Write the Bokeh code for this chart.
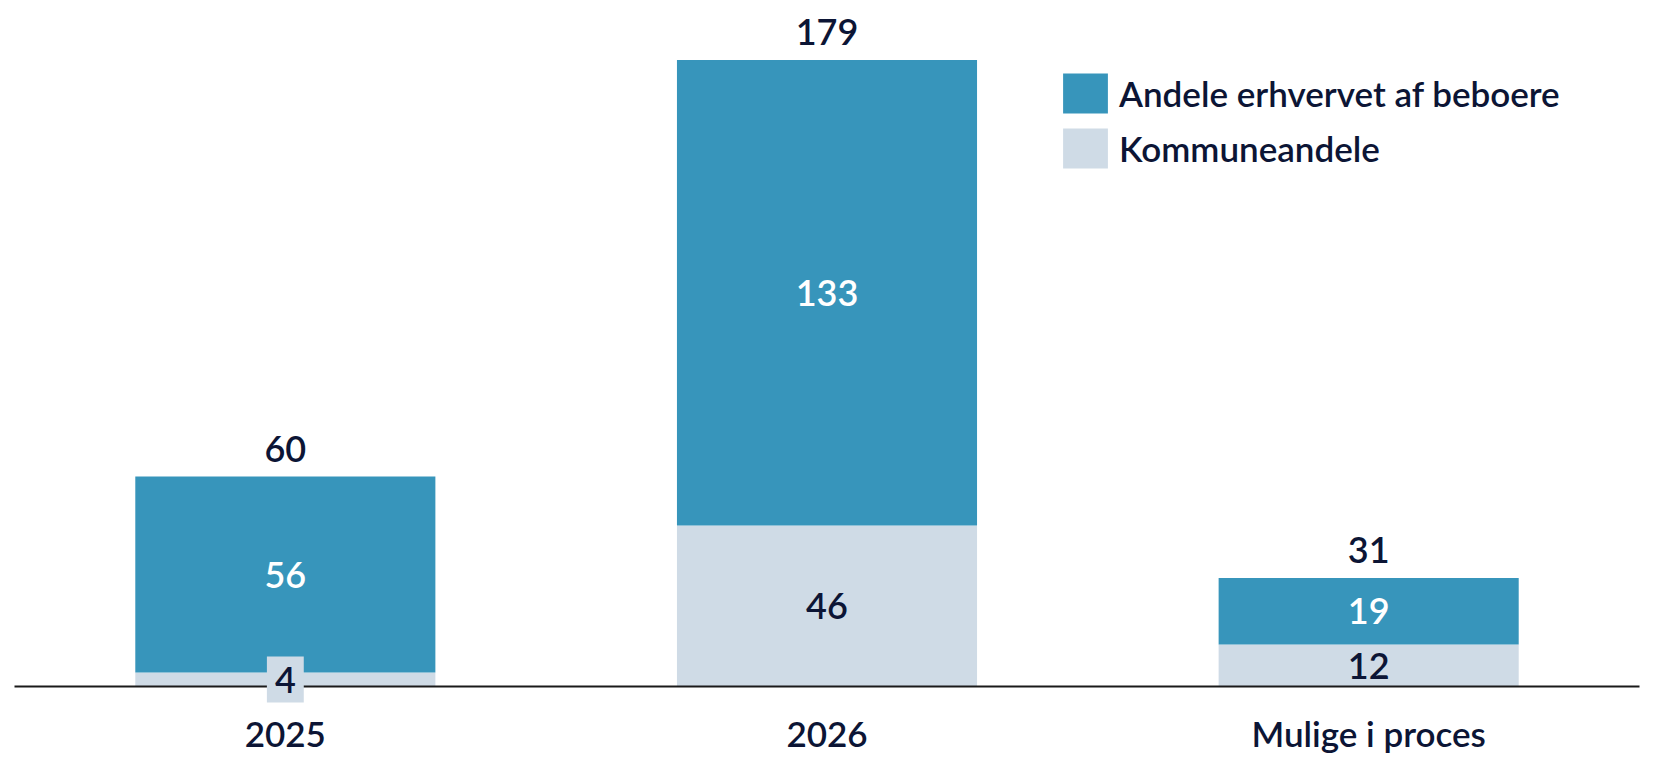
from bokeh.plotting import figure
from bokeh.models import ColumnDataSource, Legend, LegendItem, Range1d, FactorRange
from bokeh.core.properties import value
from bokeh.embed import file_html
from bokeh.resources import INLINE

categories = ["2025", "2026", "Mulige i proces"]
kommuneandele = [4, 46, 12]
beboerandele = [56, 133, 19]
totals = [60, 179, 31]

BLUE = "#3795BB"
LIGHT = "#CFDBE6"
NAVY = "#0C1535"
FONT = "Lato Semibold"

src = ColumnDataSource(dict(
    cat=categories,
    k=kommuneandele,
    b=beboerandele,
    btop=[k + b for k, b in zip(kommuneandele, beboerandele)],
    bmid=[k + b / 2 for k, b in zip(kommuneandele, beboerandele)],
    tot=totals,
    b_s=[str(v) for v in beboerandele],
    t_s=[str(v) for v in totals],
))

# light-segment labels: those too short for the text get a backing box
MIN_FIT = 10
fit = [i for i, v in enumerate(kommuneandele) if v >= MIN_FIT]
small = [i for i, v in enumerate(kommuneandele) if v < MIN_FIT]
src_fit = ColumnDataSource(dict(
    cat=[categories[i] for i in fit],
    y=[kommuneandele[i] / 2 for i in fit],
    s=[str(kommuneandele[i]) for i in fit],
))
src_small = ColumnDataSource(dict(
    cat=[categories[i] for i in small],
    y=[kommuneandele[i] / 2 for i in small],
    s=[str(kommuneandele[i]) for i in small],
))

p = figure(x_range=FactorRange(*categories), y_range=Range1d(0, 196),
           width=1671, height=758, output_backend="svg", toolbar_location=None,
           min_border_left=14, min_border_right=32, min_border_top=0, min_border_bottom=72)

W = 0.554
r_light = p.vbar(x="cat", bottom=0, top="k", width=W, source=src,
                 fill_color=LIGHT, line_color=None)
r_blue = p.vbar(x="cat", bottom="k", top="btop", width=W, source=src,
                fill_color=BLUE, line_color=None)

p.text(x="cat", y="tot", text="t_s", source=src, y_offset=-28,
       text_align="center", text_baseline="middle", text_color=NAVY,
       text_font=value(FONT), text_font_size="36px")
p.text(x="cat", y="bmid", text="b_s", source=src,
       text_align="center", text_baseline="middle", text_color="white",
       text_font=value(FONT), text_font_size="36px")
p.text(x="cat", y="y", text="s", source=src_fit,
       text_align="center", text_baseline="middle", text_color=NAVY,
       text_font=value(FONT), text_font_size="36px")
p.text(x="cat", y="y", text="s", source=src_small,
       text_align="center", text_baseline="middle", text_color=NAVY,
       text_font=value(FONT), text_font_size="36px",
       background_fill_color=LIGHT, padding=(8, 10), level="overlay")

legend = Legend(items=[
    LegendItem(label="Andele erhvervet af beboere", renderers=[r_blue]),
    LegendItem(label="Kommuneandele", renderers=[r_light]),
], location=(1043, 513), orientation="vertical")
legend.glyph_width = 56
legend.glyph_height = 50
legend.label_height = 50
legend.spacing = 5
legend.padding = 0
legend.margin = 0
legend.label_standoff = 6
legend.label_text_font = FONT
legend.label_text_font_size = "35px"
legend.label_text_color = NAVY
legend.border_line_color = None
legend.background_fill_alpha = 0
p.add_layout(legend)

p.yaxis.visible = False
p.xgrid.visible = False
p.ygrid.visible = False
p.outline_line_color = None
p.xaxis.axis_line_color = "#1A1A1A"
p.xaxis.axis_line_width = 2
p.xaxis.major_tick_line_color = None
p.xaxis.minor_tick_line_color = None
p.xaxis.major_label_text_font = FONT
p.xaxis.major_label_text_font_size = "35px"
p.xaxis.major_label_text_color = NAVY
p.xaxis.major_label_standoff = 19

open("out.html", "w").write(file_html(p, INLINE))
